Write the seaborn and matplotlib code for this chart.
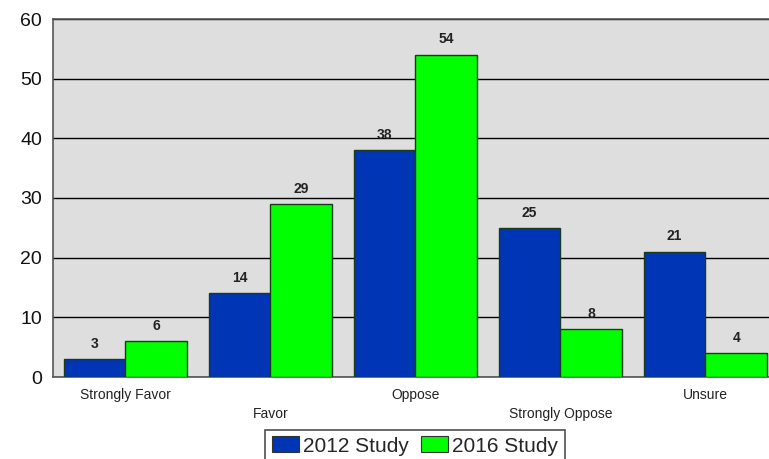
import matplotlib
matplotlib.use("Agg")
import matplotlib.pyplot as plt
import seaborn as sns
import pandas as pd

categories = ["Strongly Favor", "Favor", "Oppose", "Strongly Oppose", "Unsure"]
series_names = ["2012 Study", "2016 Study"]
values_2012 = [3, 14, 38, 25, 21]
values_2016 = [6, 29, 54, 8, 4]
y_ticks = [0, 10, 20, 30, 40, 50, 60]

df = pd.DataFrame({
    "category": categories * 2,
    "study": [series_names[0]] * len(categories) + [series_names[1]] * len(categories),
    "value": values_2012 + values_2016,
})

sns.set_theme(style="white")
plt.rcParams["font.family"] = ["Liberation Sans", "DejaVu Sans"]

fig = plt.figure(figsize=(7.69, 4.59), dpi=100)
ax = fig.add_axes([53 / 769, 1 - 377 / 459, 725 / 769, 358 / 459])
ax.set_facecolor("#DEDEDE")

palette = {"2012 Study": "#0035B5", "2016 Study": "#00FF00"}
sns.barplot(data=df, x="category", y="value", hue="study", order=categories,
            hue_order=series_names, palette=palette, width=0.855, gap=0,
            edgecolor="#1a3a1a", linewidth=1.0, saturation=1, ax=ax, zorder=3)

for c in ax.containers:
    ax.bar_label(c, labels=[f"{v:.0f}" for v in c.datavalues], padding=6,
                 fontsize=10, fontweight="bold", color="#222222")

ax.set_ylim(0, 60)
ax.set_xlim(-0.5, len(categories) - 0.5)
ax.set_yticks(y_ticks)
ax.set_yticklabels([str(t) for t in y_ticks], fontsize=14, color="#111111")
ax.yaxis.grid(True, color="black", linewidth=1.0, zorder=1)
ax.set_axisbelow(True)
ax.tick_params(axis="y", length=0, pad=8)
ax.tick_params(axis="x", length=0, pad=8)

labels = [("" if i % 2 == 0 else "\n") + c for i, c in enumerate(categories)]
ax.set_xticks(range(len(categories)))
ax.set_xticklabels(labels, fontsize=10, color="#222222", linespacing=1.45)
ax.set_xlabel("")
ax.set_ylabel("")

for s in ["left", "bottom", "top"]:
    ax.spines[s].set_visible(True)
    ax.spines[s].set_color("#555555")
    ax.spines[s].set_linewidth(1.2)
ax.spines["right"].set_visible(False)

ax.get_legend().remove()
handles = [plt.Rectangle((0, 0), 1, 1, facecolor=palette[n], edgecolor="#333333", linewidth=0.8)
           for n in series_names]
leg = fig.legend(handles, series_names, loc="lower center", bbox_to_anchor=(415 / 769, -0.006),
                 ncol=2, frameon=True, fontsize=15, handlelength=1.3, handleheight=0.8,
                 handletextpad=0.2, columnspacing=0.6, borderpad=0.3, fancybox=False,
                 borderaxespad=0)
leg.get_frame().set_edgecolor("#222222")
leg.get_frame().set_linewidth(1.2)

fig.savefig("out.png", dpi=100, facecolor="white")
